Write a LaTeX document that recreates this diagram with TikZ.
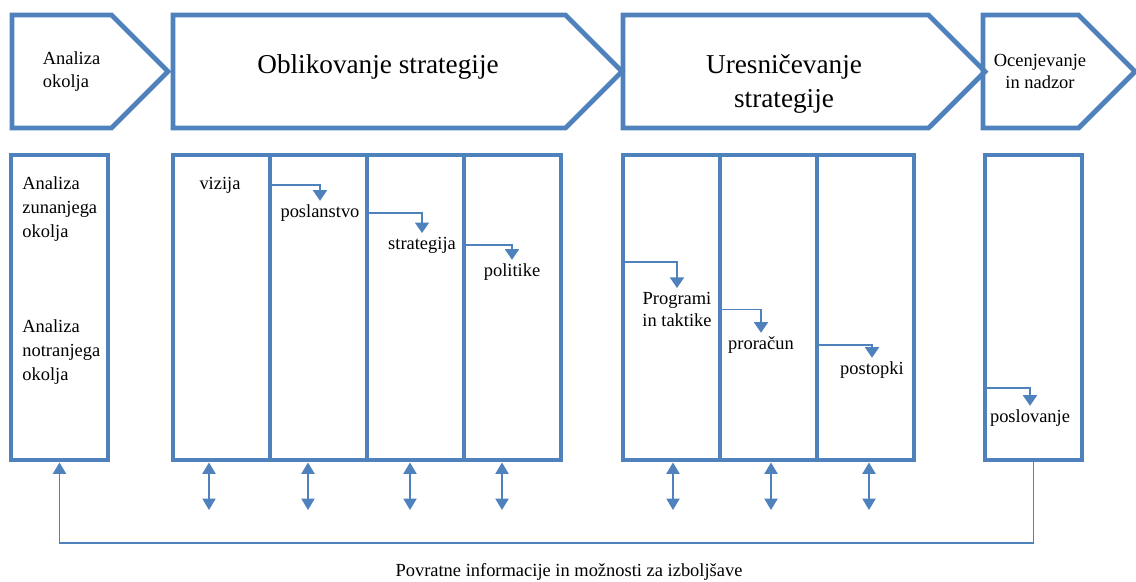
\documentclass[tikz,border=0pt]{standalone}
\usepackage{fontspec}
\setmainfont{Liberation Serif}
\usetikzlibrary{positioning,shapes.symbols,arrows.meta}
\definecolor{stageblue}{RGB}{79,129,189}

\begin{document}
\begin{tikzpicture}[
    chev/.style={draw=stageblue, line width=2.8pt, signal, signal to=east, signal pointer angle=90, minimum height=2.26cm, inner sep=0pt, outer sep=0pt},
    col/.style={draw=stageblue, line width=2.8pt, minimum width=1.94cm, minimum height=6.10cm, inner sep=0pt, outer sep=0pt},
    lbl/.style={font=\fontsize{10.5}{13}\selectfont, inner sep=2pt},
    biglbl/.style={font=\fontsize{15.5}{19.3}\selectfont, align=center, inner sep=2pt},
    steparr/.style={draw=stageblue, line width=0.85pt, -{Triangle[width=8pt,length=6pt]}},
    dblarr/.style={draw=stageblue, line width=0.85pt, shorten <=1.4pt, {Triangle[width=7.5pt,length=6.5pt]}-{Triangle[width=7.5pt,length=6.5pt]}},
    fbline/.style={draw=stageblue, line width=0.85pt, shorten >=1.4pt, -{Triangle[width=7.5pt,length=6.5pt]}},
    ]
    \useasboundingbox (0,0) rectangle (22.72,-11.62);

    % stages
    \node [chev, minimum width=3.12cm, anchor=west] (s1) at (0.24,-1.43) {};
    \node [chev, minimum width=8.98cm, right=0.10cm of s1] (s2) {};
    \node [chev, minimum width=7.24cm, right=0.02cm of s2] (s3) {};
    \node [chev, minimum width=3.04cm, right=-0.04cm of s3] (s4) {};

    \node [lbl, align=left, anchor=west] (t1) at ([xshift=0.54cm]s1.west) {Analiza\\okolja};
    \node [biglbl] (t2) at ([xshift=4.10cm, yshift=0.09cm]s2.west) {Oblikovanje strategije};
    \node [biglbl] (t3) at ([xshift=3.22cm, yshift=-0.24cm]s3.west) {Uresničevanje\\strategije};
    \node [lbl, align=center] (t4) at ([xshift=1.14cm]s4.west) {Ocenjevanje\\in nadzor};

    % columns
    \node [col, anchor=north west] (c1) at (0.22,-3.10) {};
    \node [col, right=1.30cm of c1] (c2) {};
    \node [col, right=0cm of c2] (c3) {};
    \node [col, right=0cm of c3] (c4) {};
    \node [col, right=0cm of c4] (c5) {};
    \node [col, right=1.24cm of c5] (c6) {};
    \node [col, right=0cm of c6] (c7) {};
    \node [col, right=0cm of c7] (c8) {};
    \node [col, right=1.42cm of c8] (c9) {};

    \node [lbl, align=left, anchor=west, font=\fontsize{10.5}{13.6}\selectfont] (zunanje) at ([shift={(0.15,-1.08)}]c1.north west) {Analiza\\zunanjega\\okolja};
    \node [lbl, align=left, anchor=west, font=\fontsize{10.5}{13.6}\selectfont] (notranje) at ([shift={(0.15,-3.94)}]c1.north west) {Analiza\\notranjega\\okolja};
    \node [lbl] (vizija) at ([shift={(0.94,-0.60)}]c2.north west) {vizija};
    \node [lbl] (poslanstvo) at ([shift={(1.00,-1.16)}]c3.north west) {poslanstvo};
    \node [lbl] (strategija) at ([shift={(1.10,-1.80)}]c4.north west) {strategija};
    \node [lbl] (politike) at ([shift={(0.96,-2.34)}]c5.north west) {politike};
    \node [lbl, align=center] (programi) at ([shift={(1.08,-3.09)}]c6.north west) {Programi\\in taktike};
    \node [lbl] (proracun) at ([shift={(0.82,-3.80)}]c7.north west) {proračun};
    \node [lbl] (postopki) at ([shift={(1.10,-4.30)}]c8.north west) {postopki};
    \node [lbl] (poslovanje) at ([shift={(0.90,-5.26)}]c9.north west) {poslovanje};

    % steps inside the columns
    \coordinate (pstart) at ([yshift=-2.14cm]c6.north west);
    \coordinate (zstart) at ([yshift=-4.66cm]c9.north west);
    \draw [steparr] (c3.west |- vizija) -| (poslanstvo.north);
    \draw [steparr] (c4.west |- poslanstvo) -| (strategija.north);
    \draw [steparr] (c5.west |- strategija) -| (politike.north);
    \draw [steparr] (pstart) -| (programi.north);
    \draw [steparr] (c7.west |- programi) -| (proracun.north);
    \draw [steparr] (c8.west |- proracun) -| (postopki.north);
    \draw [steparr] (zstart) -| (poslovanje.north);

    % two-way arrows
    \coordinate [below=1.00cm of c2.south, xshift=-0.25cm] (d2);
    \coordinate [below=1.00cm of c3.south, xshift=-0.21cm] (d3);
    \coordinate [below=1.00cm of c4.south, xshift=-0.11cm] (d4);
    \coordinate [below=1.00cm of c5.south, xshift=-0.21cm] (d5);
    \coordinate [below=1.00cm of c6.south, xshift=0.03cm] (d6);
    \coordinate [below=1.00cm of c7.south, xshift=0.05cm] (d7);
    \coordinate [below=1.00cm of c8.south, xshift=0.07cm] (d8);
    \draw [dblarr] (d2 |- c2.south) -- (d2);
    \draw [dblarr] (d3 |- c3.south) -- (d3);
    \draw [dblarr] (d4 |- c4.south) -- (d4);
    \draw [dblarr] (d5 |- c5.south) -- (d5);
    \draw [dblarr] (d6 |- c6.south) -- (d6);
    \draw [dblarr] (d7 |- c7.south) -- (d7);
    \draw [dblarr] (d8 |- c8.south) -- (d8);

    % feedback
    \draw [fbline] (c9.south) -- ++(0,-1.66) -| (c1.south);
    \node [lbl] (fbtext) at (11.38,-11.44) {Povratne informacije in možnosti za izboljšave};
\end{tikzpicture}
\end{document}
